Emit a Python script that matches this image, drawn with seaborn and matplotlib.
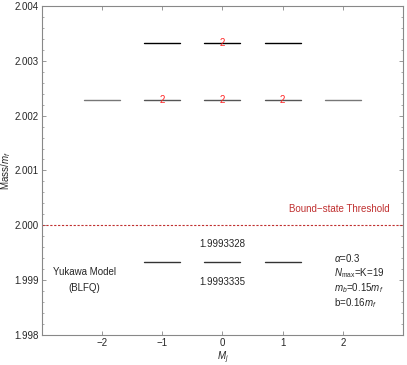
import numpy as np
import pandas as pd
import seaborn as sns
import matplotlib.pyplot as plt
from matplotlib.ticker import MultipleLocator

# mass levels
upper_mj = [-1, 0, 1]
upper_mass = [2.00333, 2.00333, 2.00333]
middle_mj = [-2, -1, 0, 1, 2]
middle_mass = [2.00229, 2.00229, 2.00229, 2.00229, 2.00229]
ground_mj = [-1, 0, 1]
ground_mass = [1.9993332, 1.9993332, 1.9993332]

# degeneracy labels
deg_mj = [-1, 0, 1, 0]
deg_mass = [2.00229, 2.00229, 2.00229, 2.00333]
deg_text = ['2', '2', '2', '2']

threshold = 2.0
xticks = [-2, -1, 0, 1, 2]

sns.set_style('ticks')
plt.rcParams['font.family'] = ['Liberation Sans', 'DejaVu Sans']
plt.rcParams['mathtext.fontset'] = 'custom'
plt.rcParams['mathtext.it'] = 'Liberation Sans:italic'
plt.rcParams['mathtext.rm'] = 'Liberation Sans'


def level_rows(mj, mass, group, half=0.3):
    rows = []
    for i, (m, e) in enumerate(zip(mj, mass)):
        seg = '%s%d' % (group, i)
        rows.append({'seg': seg, 'group': group, 'x': m - half, 'y': e})
        rows.append({'seg': seg, 'group': group, 'x': m + half, 'y': e})
    return rows


rows = level_rows(upper_mj, upper_mass, 'upper')
rows += level_rows(middle_mj[1:4], middle_mass[1:4], 'middle')
rows += level_rows([middle_mj[0], middle_mj[4]], [middle_mass[0], middle_mass[4]], 'edge')
rows += level_rows(ground_mj, ground_mass, 'ground')
levels = pd.DataFrame(rows)

fig = plt.figure(figsize=(4.07, 3.65), dpi=100)
ax = fig.add_axes([0.103, 0.082, 0.887, 0.902])

sns.lineplot(data=levels, x='x', y='y', units='seg', estimator=None, hue='group',
             palette={'upper': 'black', 'middle': '#555555', 'edge': '#777777', 'ground': '#333333'},
             linewidth=1.0, legend=False, ax=ax)

for m, e, t in zip(deg_mj, deg_mass, deg_text):
    ax.text(m, e, t, color='#ff2222', fontsize=7, ha='center', va='center')

ax.axhline(threshold, color='#c03030', linestyle=(0, (2, 1.5)), linewidth=0.8)
ax.text(1.95, 2.00029, 'Bound\u2212state Threshold', color='#c03030', fontsize=7, ha='center', va='center')

ax.text(0, 1.99966, '1.9993328', fontsize=7, ha='center', va='center')
ax.text(0, 1.99896, '1.9993335', fontsize=7, ha='center', va='center')

ax.text(-2.3, 1.99915, 'Yukawa Model', fontsize=7, ha='center', va='center')
ax.text(-2.3, 1.99886, '(BLFQ)', fontsize=7, ha='center', va='center')

params = [r'$\alpha$=0.3', r'$N_{\rm max}$=K=19', r'$m_b$=0.15$m_f$', r'b=0.16$m_f$']
for i, p in enumerate(params):
    ax.text(1.85, 1.9994 - i * 0.000272, p, fontsize=7, ha='left', va='center')

ax.set_xlim(-3, 3)
ax.set_ylim(1.998, 2.004)
ax.set_xticks(xticks)
ax.set_xticklabels(['\u22122', '\u22121', '0', '1', '2'])
ax.yaxis.set_major_locator(MultipleLocator(0.001))
ax.yaxis.set_minor_locator(MultipleLocator(0.0002))
ax.yaxis.set_major_formatter(plt.FormatStrFormatter('%.3f'))
ax.tick_params(direction='in', labelsize=7, color='#888888', length=3, width=0.6,
               top=True, right=True, labeltop=False, labelright=False, pad=2)
ax.tick_params(which='minor', direction='in', length=1.5, width=0.5, color='#888888',
               right=True, left=True)
for s in ax.spines.values():
    s.set_color('#888888')
    s.set_linewidth(0.8)

ax.set_xlabel('$M_j$', fontsize=7, labelpad=1)
ax.set_ylabel('Mass/$m_f$', fontsize=7, labelpad=1)

fig.savefig('out.png', dpi=100)
